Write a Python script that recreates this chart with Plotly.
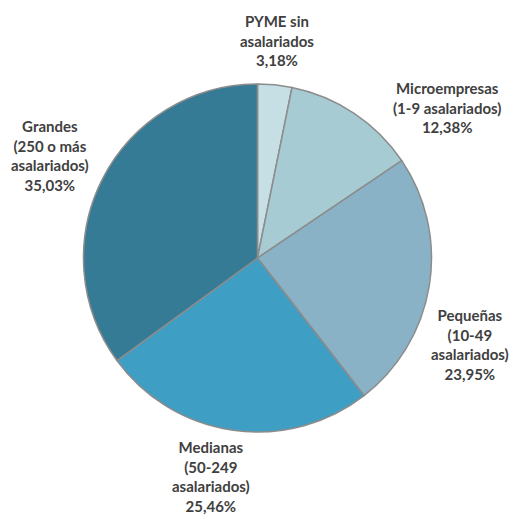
import plotly.graph_objects as go

categories = ["PYME sin<br>asalariados", "Microempresas<br>(1-9 asalariados)",
              "Pequeñas<br>(10-49<br>asalariados)", "Medianas<br>(50-249<br>asalariados)",
              "Grandes<br>(250 o más<br>asalariados)"]
values = [3.18, 12.38, 23.95, 25.46, 35.03]
colors = ["#c6dfe5", "#a6cbd2", "#8ab2c7", "#3f9ec4", "#367b96"]

# label anchor positions (pixels in the 513x516 canvas)
label_pos = [(277, 40), (447, 107), (470, 344), (211, 476), (50, 155)]

W, H = 513, 516


def fx(px):
    return px / W


def fy(py):
    return 1 - py / H


fig = go.Figure(go.Pie(
    labels=categories, values=values, sort=False, direction="clockwise", rotation=0,
    marker=dict(colors=colors, line=dict(color="#8c8c8c", width=1.5)),
    textinfo="none", hoverinfo="label+percent",
    domain=dict(x=[fx(83), fx(432)], y=[fy(432), fy(84)]),
    showlegend=False,
))

annotations = []
for cat, v, (px, py) in zip(categories, values, label_pos):
    txt = f"{cat}<br>{v:.2f}".replace(".", ",") + "%"
    annotations.append(dict(
        text=txt, x=fx(px), y=fy(py), xref="paper", yref="paper",
        xanchor="center", yanchor="middle", showarrow=False, align="center",
        font=dict(family="Lato", size=15, color="#404040", weight="bold"),
    ))

fig.update_layout(
    width=W, height=H, margin=dict(l=0, r=0, t=0, b=0),
    paper_bgcolor="white", plot_bgcolor="white", annotations=annotations,
)
fig.write_html("out.html", config={"displayModeBar": False},
               post_script="document.body.style.margin='0';document.body.style.overflow='hidden';")
